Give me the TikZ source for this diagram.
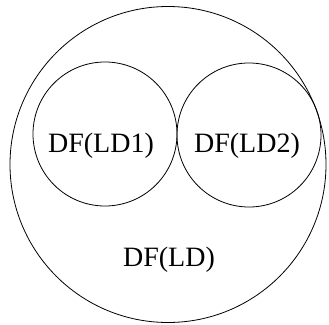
\documentclass[tikz,border=0pt]{standalone}
\usepackage{fontspec}
\setmainfont{Liberation Serif}
\usepackage{tikz}
\usetikzlibrary{positioning}

\begin{document}
\begin{tikzpicture}[x=1pt,y=-1pt,
  ring/.style={circle,draw,line width=0.8pt,inner sep=0pt},
  lbl/.style={font=\fontsize{28}{30}\selectfont,inner sep=0pt}
]
  \useasboundingbox (0,0) rectangle (329,324);
  % outer domain and the two sub-domains
  \node[ring,minimum size=316pt] (ld)  at (168,164.5) {};
  \node[ring,minimum size=144pt] (ld1) at (105,134) {};
  \node[ring,minimum size=144pt] (ld2) at (249,135) {};
  \node[lbl] (t1) at (101,146) {DF(LD1)};
  \node[lbl] (t2) at (247,146) {DF(LD2)};
  \node[lbl] (t)  at (169,260) {DF(LD)};
\end{tikzpicture}
\end{document}
